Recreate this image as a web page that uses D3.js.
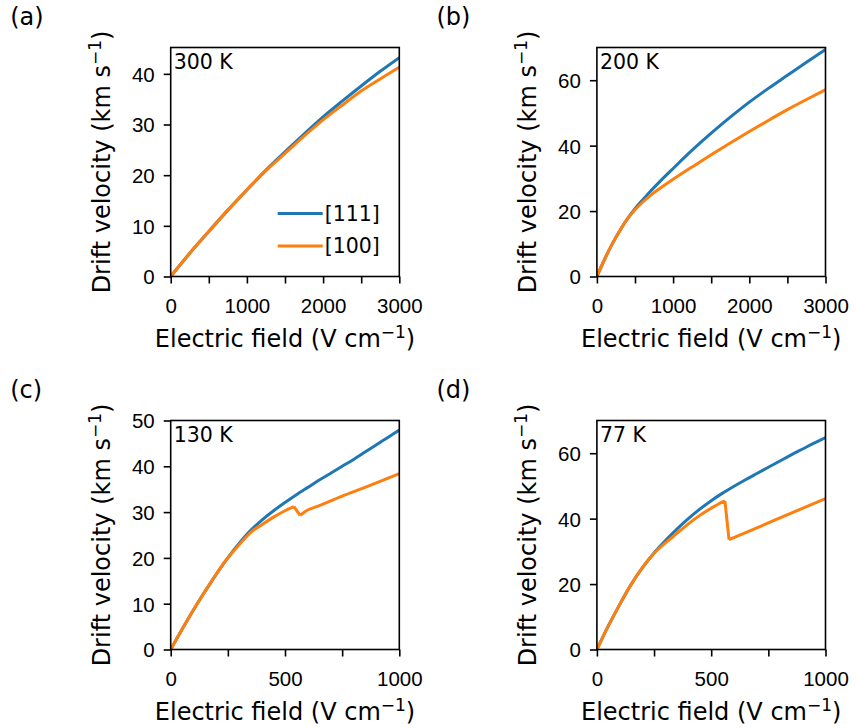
<!DOCTYPE html>
<html lang="en">
<head>
<meta charset="UTF-8">
<title>Drift velocity vs electric field</title>
<script src="https://d3js.org/d3.v7.min.js"></script>
<style>
  body { margin: 0; background: #fff; }
  svg { display: block; font-family: "DejaVu Sans", sans-serif; }
  .tick text { font-size: 20.5px; fill: #000; }
  .tick line { stroke: #000; stroke-width: 1.6; }
</style>
</head>
<body>
<svg width="857" height="728"></svg>
<script>
// values (field in V/cm, velocity in km/s)
const field300 = [0, 250, 500, 750, 1000, 1250, 1500, 1750, 2000, 2250, 2500, 2750, 3000];
const v111_300 = [0, 4.6, 8.9, 13.1, 17.1, 21.0, 24.6, 28.1, 31.5, 34.6, 37.6, 40.5, 43.2];
const v100_300 = [0, 4.6, 8.9, 13.1, 17.1, 20.9, 24.3, 27.7, 30.9, 33.8, 36.6, 39.0, 41.3];

const field200 = [0, 100, 200, 300, 400, 500, 600, 700, 800, 1000, 1250, 1500, 1750, 2000, 2250, 2500, 2750, 3000];
const v111_200 = [0, 5.2, 9.9, 14.0, 17.6, 20.7, 23.4, 26.0, 28.4, 33.0, 38.6, 43.8, 48.7, 53.3, 57.5, 61.5, 65.5, 69.4];
const v100_200 = [0, 5.2, 9.9, 14.0, 17.6, 20.4, 22.7, 24.7, 26.5, 29.7, 33.5, 37.2, 40.8, 44.3, 47.7, 51.0, 54.1, 57.1];

const field130_111 = [0, 60, 120, 180, 245, 300, 350, 400, 450, 500, 550, 600, 650, 700, 750, 800, 850, 900, 950, 1000];
const v111_130 = [0, 5.3, 10.3, 15.0, 19.7, 23.2, 26.0, 28.3, 30.3, 32.1, 33.8, 35.4, 37.0, 38.5, 40.0, 41.5, 43.1, 44.7, 46.3, 47.9];
const field130_100 = [0, 60, 120, 180, 245, 300, 350, 400, 450, 500, 539, 566, 587, 650, 750, 850, 1000];
const v100_130 = [0, 5.3, 10.3, 15.0, 19.7, 22.9, 25.6, 27.3, 28.9, 30.3, 31.2, 29.3, 30.1, 31.4, 33.5, 35.4, 38.4];

const field77_111 = [0, 50, 100, 150, 200, 250, 300, 350, 400, 450, 500, 550, 600, 650, 700, 750, 800, 850, 900, 950, 1000];
const v111_77 = [0, 7.2, 13.8, 19.9, 25.1, 29.5, 33.3, 36.8, 40.0, 42.9, 45.5, 47.8, 49.9, 51.9, 53.8, 55.7, 57.6, 59.5, 61.3, 63.1, 64.8];
const field77_100 = [0, 50, 100, 150, 200, 250, 300, 350, 400, 450, 500, 530, 560, 578, 700, 850, 1000];
const v100_77 = [0, 7.2, 13.8, 19.9, 25.1, 29.4, 32.6, 35.5, 38.4, 41.0, 43.2, 44.4, 45.4, 33.6, 37.2, 41.7, 46.1];

const seriesNames = ["[111]", "[100]"];
const colors = ["#1f77b4", "#ff7f0e"];

const panels = [
  { tag: "(a)", temp: "300 K", xMax: 3000, yMax: 45.2,
    xTicks: d3.range(0, 3001, 500), xLabels: [0, 1000, 2000, 3000], yTicks: [0, 10, 20, 30, 40],
    series: [[field300, v111_300], [field300, v100_300]], legend: true,
    left: 170.7, top: 47.5 },
  { tag: "(b)", temp: "200 K", xMax: 3000, yMax: 70,
    xTicks: d3.range(0, 3001, 500), xLabels: [0, 1000, 2000, 3000], yTicks: [0, 20, 40, 60],
    series: [[field200, v111_200], [field200, v100_200]],
    left: 596.9, top: 47.5 },
  { tag: "(c)", temp: "130 K", xMax: 1000, yMax: 50,
    xTicks: d3.range(0, 1001, 250), xLabels: [0, 500, 1000], yTicks: [0, 10, 20, 30, 40, 50],
    series: [[field130_111, v111_130], [field130_100, v100_130]],
    left: 170.7, top: 420.5 },
  { tag: "(d)", temp: "77 K", xMax: 1000, yMax: 70,
    xTicks: d3.range(0, 1001, 250), xLabels: [0, 500, 1000], yTicks: [0, 20, 40, 60],
    series: [[field77_111, v111_77], [field77_100, v100_77]],
    left: 596.9, top: 420.5 }
];

const w = 228.6, h = 229;
const svg = d3.select("svg");

// smooth each rising/falling run separately so the sharp drops keep their corners
function curvePath(pts, x, y) {
  const line = d3.line().x(d => x(d[0])).y(d => y(d[1])).curve(d3.curveMonotoneX);
  const runs = [];
  let run = [pts[0]], dir = 0;
  for (let j = 1; j < pts.length; j++) {
    const s = Math.sign(pts[j][1] - pts[j - 1][1]);
    if (dir !== 0 && s !== 0 && s !== dir) {
      runs.push(run);
      run = [pts[j - 1]];
    }
    if (s !== 0) dir = s;
    run.push(pts[j]);
  }
  runs.push(run);
  return runs.map(r => line(r)).join("");
}

panels.forEach((p, i) => {
  const g = svg.append("g").attr("transform", `translate(${p.left},${p.top})`);
  const x = d3.scaleLinear().domain([0, p.xMax]).range([0, w]);
  const y = d3.scaleLinear().domain([0, p.yMax]).range([h, 0]);

  // clip to the axes box
  svg.append("clipPath").attr("id", "clip" + i)
    .append("rect").attr("width", w).attr("height", h);

  const plot = g.append("g").attr("clip-path", `url(#clip${i})`);
  p.series.forEach(([xs, ys], k) => {
    plot.append("path")
      .attr("d", curvePath(xs.map((e, j) => [e, ys[j]]), x, y))
      .attr("fill", "none")
      .attr("stroke", colors[k])
      .attr("stroke-width", 3)
      .attr("stroke-linejoin", "round");
  });

  // axes
  const xAxis = g.append("g").attr("transform", `translate(0,${h})`)
    .call(d3.axisBottom(x).tickValues(p.xTicks).tickSize(7).tickPadding(14.5)
      .tickFormat(d => p.xLabels.includes(d) ? d : ""));
  xAxis.select(".domain").remove();

  const yAxis = g.append("g")
    .call(d3.axisLeft(y).tickValues(p.yTicks).tickSize(7).tickPadding(9));
  yAxis.select(".domain").remove();
  yAxis.selectAll("text").attr("dy", "0.36em");

  g.append("rect").attr("width", w).attr("height", h)
    .attr("fill", "none").attr("stroke", "#000").attr("stroke-width", 1.6);

  // temperature tag
  g.append("text").attr("x", 3).attr("y", 21)
    .style("font-size", "20.5px").text(p.temp);

  // axis labels
  const xl = g.append("text").attr("x", w / 2).attr("y", h + 70.2)
    .attr("text-anchor", "middle").style("font-size", "24px");
  xl.append("tspan").text("Electric field (V cm");
  xl.append("tspan").attr("dy", -9).style("font-size", "17px").text("\u22121");
  xl.append("tspan").attr("dy", 9).text(")");

  const yl = g.append("text")
    .attr("transform", `translate(-61,${h / 2}) rotate(-90)`)
    .attr("text-anchor", "middle").style("font-size", "24px");
  yl.append("tspan").text("Drift velocity (km s");
  yl.append("tspan").attr("dy", -9).style("font-size", "17px").text("\u22121");
  yl.append("tspan").attr("dy", 9).text(")");

  // panel letter
  svg.append("text").attr("x", p.left - 160.5).attr("y", p.top - 22.5)
    .style("font-size", "24px").text(p.tag);

  if (p.legend) {
    const lg = g.append("g").attr("transform", "translate(107,166)");
    seriesNames.forEach((name, k) => {
      const row = lg.append("g").attr("transform", `translate(0,${k * 32.4})`);
      row.append("line").attr("x1", 0).attr("x2", 45)
        .attr("stroke", colors[k]).attr("stroke-width", 3);
      row.append("text").attr("x", 47).attr("dy", "0.36em")
        .style("font-size", "20.5px").text(name);
    });
  }
});
</script>
</body>
</html>
